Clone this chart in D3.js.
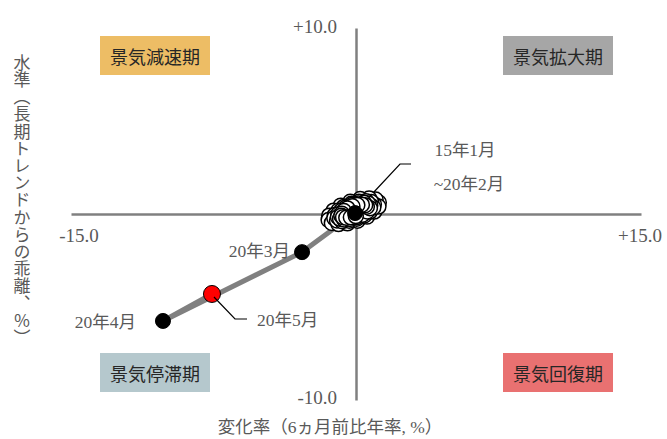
<!DOCTYPE html>
<html><head><meta charset="utf-8">
<script src="https://cdn.jsdelivr.net/npm/d3@7"></script>
<style>
html,body{margin:0;padding:0;background:#fff;}
svg{display:block;}
</style></head>
<body><svg id="c" width="667" height="439"></svg>
<script>
// ---- data ----
// 15年1月 ~ 20年1月 (open markers), values in % (x: 6ヵ月前比年率, y: 長期トレンドからの乖離)
const clusterX = [1.20,1.03,0.69,0.22,-0.30,-0.80,-1.18,-1.41,-1.44,-1.27,-0.92,-0.45,0.08,0.58,0.96,1.18,
                  0.94,0.80,0.53,0.16,-0.24,-0.64,-0.93,-1.11,-1.14,-1.00,-0.73,-0.36,0.04,0.44,0.73,0.91,
                  0.75,0.64,0.42,0.12,-0.22,-0.54,-0.79,-0.93,-0.95,-0.84,-0.62,-0.32,0.02,0.34,0.59,0.73,
                  0.57,0.48,0.31,0.07,-0.19,-0.45,-0.64,-0.75,-0.77,-0.68,-0.51,-0.27,-0.01];
const clusterY = [0.62,0.78,0.84,0.80,0.66,0.45,0.18,-0.09,-0.32,-0.48,-0.54,-0.50,-0.36,-0.14,0.13,0.40,
                  0.52,0.65,0.69,0.66,0.55,0.38,0.17,-0.05,-0.22,-0.35,-0.39,-0.36,-0.25,-0.08,0.13,0.35,
                  0.46,0.56,0.60,0.57,0.48,0.34,0.16,-0.01,-0.16,-0.26,-0.30,-0.27,-0.18,-0.04,0.14,0.31,
                  0.39,0.47,0.50,0.48,0.41,0.30,0.16,0.02,-0.09,-0.17,-0.20,-0.18,-0.11];
// 20年2月 ~ 20年5月 (highlighted path)
const pathLabels = ["20年2月","20年3月","20年4月","20年5月"];
const pathX = [-0.05,-2.84,-10.16,-7.58];
const pathY = [0.05,-2.05,-5.75,-4.30];
const pathFill = ["#000000","#000000","#000000","#FF0000"];
const xTicks = [-15,15];
const xTickLabels = ["-15.0","+15.0"];
const yTicks = [10,-10];
const yTickLabels = ["+10.0","-10.0"];
const quadrants = ["景気減速期","景気拡大期","景気停滞期","景気回復期"];
const quadColors = ["#EDBD65","#A6A6A6","#B5C8CD","#E97171"];
const xTitle = "変化率（6ヵ月前比年率, %）";
const yTitle = "水準（長期トレンドからの乖離、％）";

// ---- drawing ----
const svg = d3.select("#c");
const x = d3.scaleLinear().domain([-15,15]).range([71,641]);
const y = d3.scaleLinear().domain([-10,10]).range([400,28]);
const fontNum = "'Liberation Serif','Noto Sans CJK JP',serif";
const grey = "#595959";

// quadrant boxes
const boxes = [
  {x:100,y:36},{x:503,y:36},{x:100,y:353},{x:503,y:353}
];
boxes.forEach((b,i)=>{
  svg.append("rect").attr("x",b.x).attr("y",b.y).attr("width",110).attr("height",39).attr("fill",quadColors[i]);
  svg.append("text").attr("x",b.x+55).attr("y",b.y+20).attr("text-anchor","middle")
    .attr("dominant-baseline","central").attr("font-family","'Noto Sans CJK JP',sans-serif")
    .attr("font-size",18).attr("fill","#262626").text(quadrants[i]);
});

// axes
const gx = svg.append("g").attr("transform",`translate(0,${y(0)})`)
  .call(d3.axisBottom(x).tickValues([]).tickSizeOuter(0));
const gy = svg.append("g").attr("transform",`translate(${x(0)},0)`)
  .call(d3.axisLeft(y).tickValues([]).tickSizeOuter(0));
[gx,gy].forEach(g=>g.select(".domain").attr("stroke","#808080").attr("stroke-width",2.5));

// tick labels
svg.append("text").attr("x",x(xTicks[0])+8).attr("y",y(0)+28).attr("text-anchor","middle")
  .attr("font-family",fontNum).attr("font-size",19).attr("fill",grey).text(xTickLabels[0]);
svg.append("text").attr("x",x(xTicks[1])-1).attr("y",y(0)+28).attr("text-anchor","middle")
  .attr("font-family",fontNum).attr("font-size",19).attr("fill",grey).text(xTickLabels[1]);
yTicks.forEach((t,i)=>{
  svg.append("text").attr("x",x(0)-19).attr("y",y(t)+(i===0?-2:-3)).attr("text-anchor","end")
    .attr("dominant-baseline","central").attr("font-family",fontNum).attr("font-size",19)
    .attr("fill",grey).text(yTickLabels[i]);
});

// axis titles
svg.append("text").attr("x",330).attr("y",427).attr("text-anchor","middle").attr("dominant-baseline","central")
  .attr("font-family",fontNum).attr("font-size",17.5).attr("fill",grey).text(xTitle);
svg.append("text").attr("x",22).attr("y",200).attr("text-anchor","middle")
  .style("writing-mode","vertical-rl").style("text-orientation","upright")
  .attr("font-family","'Noto Sans CJK JP',sans-serif").attr("font-size",17).attr("fill",grey)
  .attr("letter-spacing",0.2).text(yTitle);

// path line (20年2月 -> 5月)
const line = d3.line().x((d,i)=>x(pathX[i])).y((d,i)=>y(pathY[i]));
svg.append("path").datum(pathX).attr("d",line).attr("fill","none")
  .attr("stroke","#808080").attr("stroke-width",5);

// cluster markers
svg.append("g").selectAll("circle").data(clusterX).join("circle")
  .attr("cx",(d)=>x(d)).attr("cy",(d,i)=>y(clusterY[i])).attr("r",7.5)
  .attr("fill","#fff").attr("stroke","#000").attr("stroke-width",1.5);

// highlighted markers
svg.append("g").selectAll("circle").data(pathX).join("circle")
  .attr("cx",d=>x(d)).attr("cy",(d,i)=>y(pathY[i])).attr("r",(d,i)=>i===3?8.5:7.5)
  .attr("fill",(d,i)=>pathFill[i]).attr("stroke","#000").attr("stroke-width",1);

// leader lines
svg.append("path").attr("d","M373,193L400,164L411,164").attr("fill","none").attr("stroke","#000").attr("stroke-width",1.2);
svg.append("path").attr("d",`M${x(pathX[3])+2},${y(pathY[3])+3}L235,319L247,319`).attr("fill","none").attr("stroke","#000").attr("stroke-width",1.2);

// point labels
const lab = (t,xx,yy,anchor)=>svg.append("text").attr("x",xx).attr("y",yy).attr("text-anchor",anchor)
  .attr("dominant-baseline","central").attr("font-family",fontNum).attr("font-size",17.5).attr("fill",grey).text(t);
lab("15年1月",465,150,"middle");
lab("~20年2月",469,184,"middle");
lab(pathLabels[1],x(pathX[1])-12,y(pathY[1])-1,"end");
lab(pathLabels[2],x(pathX[2])-27,y(pathY[2])+1,"end");
lab(pathLabels[3],257,320,"start");
</script></body></html>
